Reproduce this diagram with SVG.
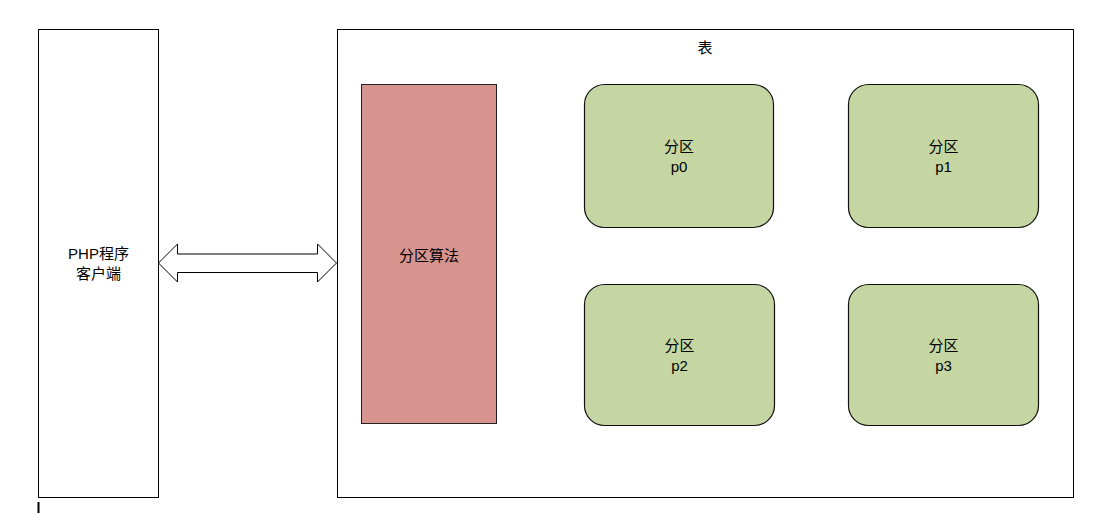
<svg xmlns="http://www.w3.org/2000/svg" width="1106" height="514" viewBox="0 0 1106 514">
<style>
.box{fill:#ffffff;stroke:#000000;stroke-width:1}
.algo{fill:#d7938e;stroke:#222222;stroke-width:1}
.part{fill:#c5d6a3;stroke:#111111;stroke-width:1.2}
.t{font-family:"Liberation Sans","Noto Sans CJK SC",sans-serif;font-size:15px;fill:#000000;text-anchor:middle}
</style>
<rect x="0" y="0" width="1106" height="514" fill="#ffffff"/>
<g id="client">
<rect class="box" x="38.5" y="29.5" width="120" height="468"/>
<text class="t" x="98.5" y="259">PHP程序</text>
<text class="t" x="98.5" y="279">客户端</text>
</g>
<g id="table">
<rect class="box" x="337.5" y="29.5" width="736" height="468"/>
<text class="t" x="705" y="53">表</text>
</g>
<g id="algorithm">
<rect class="algo" x="361.5" y="84.5" width="135" height="339"/>
<text class="t" x="429" y="261">分区算法</text>
</g>
<g id="p0">
<rect class="part" x="584.5" y="84.5" width="189" height="143" rx="20" ry="20"/>
<text class="t" x="679" y="152">分区</text>
<text class="t" x="679" y="172">p0</text>
</g>
<g id="p1">
<rect class="part" x="848.5" y="84.5" width="190" height="143" rx="20" ry="20"/>
<text class="t" x="943.5" y="152">分区</text>
<text class="t" x="943.5" y="172">p1</text>
</g>
<g id="p2">
<rect class="part" x="584.5" y="284.5" width="190" height="141" rx="20" ry="20"/>
<text class="t" x="679.5" y="351">分区</text>
<text class="t" x="679.5" y="371">p2</text>
</g>
<g id="p3">
<rect class="part" x="848.5" y="284.5" width="190" height="141" rx="20" ry="20"/>
<text class="t" x="943.5" y="351">分区</text>
<text class="t" x="943.5" y="371">p3</text>
</g>
<g id="connectors">
<path d="M158.5,263 L177.5,244 L177.5,254 L317.5,254 L317.5,244 L336.5,263 L317.5,282 L317.5,272.5 L177.5,272.5 L177.5,282 Z" fill="#ffffff" stroke="#000000" stroke-width="1"/>
</g>
<line x1="38.5" y1="502" x2="38.5" y2="513" stroke="#000000" stroke-width="2"/>
</svg>
